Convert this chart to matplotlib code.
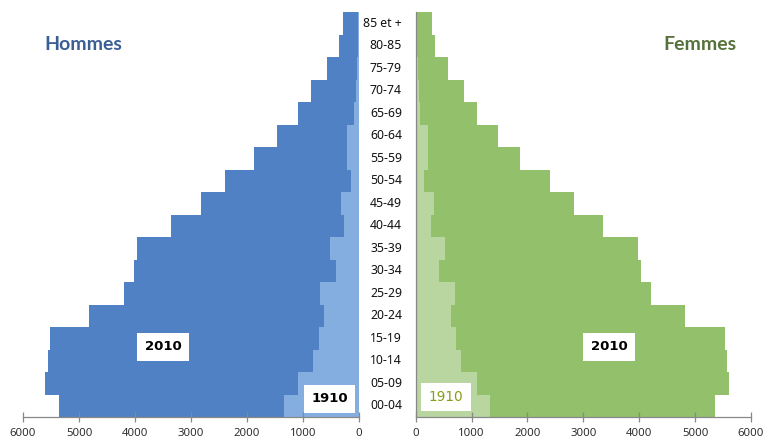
import matplotlib
matplotlib.use('Agg')
import matplotlib.pyplot as plt
from matplotlib.transforms import blended_transform_factory

# age groups, bottom to top
ages = ['00-04', '05-09', '10-14', '15-19', '20-24', '25-29', '30-34', '35-39',
        '40-44', '45-49', '50-54', '55-59', '60-64', '65-69', '70-74', '75-79',
        '80-85', '85 et +']

hommes_2010 = [5350, 5600, 5550, 5525, 4815, 4205, 4025, 3965, 3350, 2820,
               2400, 1870, 1470, 1090, 865, 575, 350, 290]
hommes_1910 = [1333, 1095, 815, 708, 625, 690, 417, 524, 268, 327,
               149, 220, 214, 85, 55, 35, 20, 15]
femmes_2010 = [5354, 5611, 5563, 5533, 4823, 4215, 4036, 3971, 3357, 2826,
               2403, 1872, 1478, 1097, 870, 578, 351, 292]
femmes_1910 = [1335, 1097, 816, 721, 626, 698, 417, 530, 268, 327,
               149, 225, 214, 83, 55, 35, 20, 15]

ticks = [0, 1000, 2000, 3000, 4000, 5000, 6000]

W, H = 767, 442
fig = plt.figure(figsize=(W / 100, H / 100), dpi=100)

axL = fig.add_axes([23 / W, 25 / H, 336 / W, 405 / H])
axR = fig.add_axes([415.7 / W, 25 / H, 335.3 / W, 405 / H])

y = list(range(len(ages)))

axL.barh(y, hommes_2010, height=1.0, color='#4f81c4', linewidth=0)
axL.barh(y, hommes_1910, height=1.0, color='#85aee0', linewidth=0)
axR.barh(y, femmes_2010, height=1.0, color='#93c06b', linewidth=0)
axR.barh(y, femmes_1910, height=1.0, color='#b9d5a0', linewidth=0)

axL.set_xlim(6000, 0)
axR.set_xlim(0, 6000)

for ax in (axL, axR):
    ax.set_ylim(-0.5, len(ages) - 0.5)
    ax.set_xticks(ticks)
    ax.set_xticklabels([str(t) for t in ticks], fontsize=8.2, family='Open Sans', color='#222222')
    ax.set_yticks([])
    ax.tick_params(axis='x', direction='inout', length=7, width=0.9, color='#888888', pad=4.5)
    for s in ('top', 'right', 'left'):
        ax.spines[s].set_visible(False)
    ax.spines['bottom'].set_color('#888888')
    ax.spines['bottom'].set_linewidth(0.9)
    ax.patch.set_alpha(0)

axR.spines['left'].set_visible(True)
axR.spines['left'].set_color('#888888')
axR.spines['left'].set_linewidth(0.9)

# age labels in the middle
tr = blended_transform_factory(fig.transFigure, axL.transData)
for i, lab in enumerate(ages):
    fig.text(402 / W, i, lab, transform=tr, ha='right', va='center',
             fontsize=8.8, family='Noto Sans', color='#111111')

fig.text(83.5 / W, 1 - 45 / H, 'Hommes', ha='center', va='center', fontsize=14,
         fontweight='bold', family='Lato', color='#3a5f94')
fig.text(700 / W, 1 - 45 / H, 'Femmes', ha='center', va='center', fontsize=14,
         fontweight='bold', family='Lato', color='#56723a')

box = dict(boxstyle='square,pad=0.55', facecolor='white', edgecolor='none')
fig.text(163 / W, 1 - 347 / H, '2010', ha='center', va='center', fontsize=9.5,
         fontweight='bold', color='black', bbox=box)
fig.text(609 / W, 1 - 347 / H, '2010', ha='center', va='center', fontsize=9.5,
         fontweight='bold', color='black', bbox=box)
fig.text(329.5 / W, 1 - 399 / H, '1910', ha='center', va='center', fontsize=9.5,
         fontweight='bold', color='black', bbox=box)
fig.text(446 / W, 1 - 397 / H, '1910', ha='center', va='center', fontsize=9.8,
         color='#8a9b1c', bbox=box)

fig.savefig('out.png', dpi=100)
